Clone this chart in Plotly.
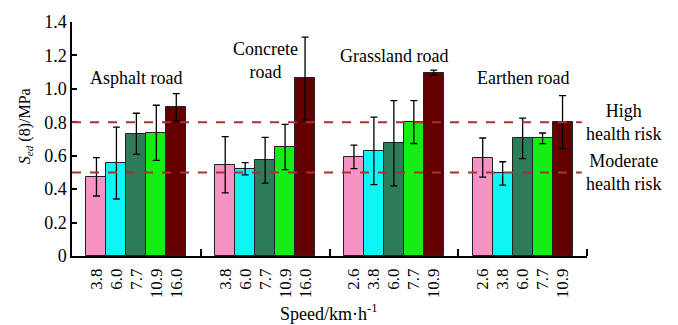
import plotly.graph_objects as go

roads = ["Asphalt road", "Concrete<br>road", "Grassland road", "Earthen road"]
speeds = [
    ["3.8", "6.0", "7.7", "10.9", "16.0"],
    ["3.8", "6.0", "7.7", "10.9", "16.0"],
    ["2.6", "3.8", "6.0", "7.7", "10.9"],
    ["2.6", "3.8", "6.0", "7.7", "10.9"],
]
# values per road group (5 bars each)
sed_asphalt = [0.474, 0.556, 0.731, 0.737, 0.890]
sed_concrete = [0.546, 0.522, 0.573, 0.652, 1.062]
sed_grass = [0.593, 0.629, 0.674, 0.801, 1.097]
sed_earth = [0.589, 0.494, 0.704, 0.704, 0.801]
err_asphalt = [0.115, 0.215, 0.123, 0.165, 0.082]
err_concrete = [0.168, 0.037, 0.137, 0.135, 0.247]
err_grass = [0.070, 0.202, 0.255, 0.128, 0.015]
err_earth = [0.117, 0.070, 0.121, 0.032, 0.158]

values = [sed_asphalt, sed_concrete, sed_grass, sed_earth]
errors = [err_asphalt, err_concrete, err_grass, err_earth]
colors = ["#f792c4", "#0ff5f5", "#2e7b5a", "#14ee14", "#640000"]
thresholds = [0.8, 0.5]
threshold_labels = ["High<br>health risk", "Moderate<br>health risk"]

bar_w = 0.155
FONT = "Liberation Serif, Times New Roman, DejaVu Serif, serif"

fig = go.Figure()
tickvals, ticktext = [], []
for k in range(5):
    xs, ys, es = [], [], []
    for g in range(4):
        x = g + 0.5 + (k - 2) * bar_w
        xs.append(x)
        ys.append(values[g][k])
        es.append(errors[g][k])
        tickvals.append(x)
        ticktext.append(speeds[g][k])
    fig.add_trace(go.Bar(
        x=xs, y=ys, width=bar_w,
        marker=dict(color=colors[k], line=dict(color="#222", width=1)),
        error_y=dict(type="data", array=es, color="black", thickness=1.3, width=3.5),
        showlegend=False, hoverinfo="skip",
    ))

for t in thresholds:
    fig.add_shape(type="line", xref="x", yref="y", x0=0, x1=3.96, y0=t, y1=t,
                  line=dict(color="#a83232", width=2, dash="dash"), layer="above")

label_y = [1.062, 1.167, 1.198, 1.062]
for g in range(4):
    fig.add_annotation(x=g + 0.5, y=label_y[g], xref="x", yref="y", text=roads[g],
                       xanchor="center", yanchor="middle",
                       showarrow=False, font=dict(family=FONT, size=18, color="black"))

for t, lab in zip(thresholds, threshold_labels):
    fig.add_annotation(x=1.07, y=t, xref="paper", yref="y", text=lab, showarrow=False,
                       xanchor="center", yanchor="middle",
                       font=dict(family=FONT, size=18, color="black"))

fig.add_annotation(x=-0.091, y=0.555, xref="paper", yref="paper",
                   text="<i>S</i><sub><i>ed</i></sub> (8)/MPa", textangle=-90,
                   xanchor="center", yanchor="middle",
                   showarrow=False, font=dict(family=FONT, size=16, color="black"))
fig.add_annotation(x=0.499, y=-0.24, xref="paper", yref="paper",
                   text="Speed/km·h<sup>-1</sup>", showarrow=False,
                   xanchor="center", yanchor="middle",
                   font=dict(family=FONT, size=18, color="black"))

fig.update_layout(
    width=678, height=325,
    margin=dict(l=72, r=91, t=20, b=69),
    plot_bgcolor="white", paper_bgcolor="white",
    bargap=0,
    font=dict(family=FONT, size=17, color="black"),
    xaxis=dict(
        range=[0, 4], tickvals=tickvals, ticktext=ticktext, tickangle=-90,
        ticks="outside", ticklen=4, tickcolor="rgba(0,0,0,0)",
        showline=True, linecolor="black", linewidth=1.5, showgrid=False, zeroline=False,
        tickfont=dict(family=FONT, size=17),
        minor=dict(tickmode="array", tickvals=[1, 2, 3, 4], ticks="inside", ticklen=7,
                   tickcolor="black", tickwidth=1.5, showgrid=False),
    ),
    yaxis=dict(
        range=[0, 1.4], tickvals=[0, 0.2, 0.4, 0.6, 0.8, 1.0, 1.2, 1.4],
        ticktext=["0", "0.2", "0.4", "0.6", "0.8", "1.0", "1.2", "1.4"],
        ticks="inside", ticklen=5, tickwidth=1.5, tickcolor="black",
        showline=True, linecolor="black", linewidth=1.5, showgrid=False, zeroline=False,
        tickfont=dict(family=FONT, size=18),
    ),
)

fig.write_html("out.html", config={"displayModeBar": False},
               post_script="document.body.style.margin='0';")
